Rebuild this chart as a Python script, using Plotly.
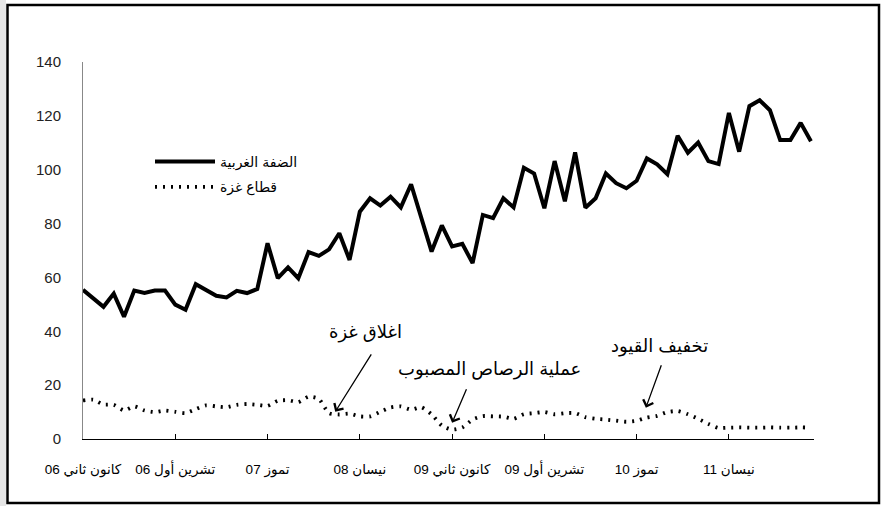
import plotly.graph_objects as go

# ---- data (monthly, Jan 2006 - Dec 2011) ----
months = [f"{y}-{m:02d}" for y in range(2006, 2012) for m in range(1, 13)]

west_bank = [55.4, 52.0, 49.1, 54.0, 45.4, 55.1, 54.2, 55.1, 55.1, 49.9,
             48.0, 57.5, 55.4, 53.2, 52.6, 55.0, 54.2, 55.7, 72.7, 59.7,
             63.7, 59.7, 69.4, 68.0, 70.4, 76.4, 66.5, 84.4, 89.4, 86.7,
             90.0, 86.0, 94.6, 82.4, 69.6, 79.3, 71.5, 72.5, 65.3, 83.2,
             82.0, 89.4, 86.0, 100.7, 98.6, 85.7, 103.2, 88.3, 106.4, 85.9,
             89.4, 98.6, 95.0, 93.1, 95.9, 104.2, 102.0, 98.3, 112.6, 106.3,
             110.1, 103.2, 102.1, 121.1, 106.7, 123.6, 125.8, 122.1, 111.0, 111.0,
             117.4, 110.6]

gaza = [14.3, 14.6, 12.8, 12.7, 10.6, 12.1, 10.6, 10.0, 10.6, 10.1,
        9.6, 11.1, 12.5, 12.1, 11.8, 12.7, 13.0, 12.7, 12.3, 14.2,
        14.4, 13.7, 15.7, 14.9, 9.6, 9.1, 9.4, 8.4, 8.4, 10.1,
        11.7, 12.1, 10.9, 11.8, 9.2, 5.0, 3.5, 4.3, 7.2, 8.5,
        8.4, 8.3, 7.5, 9.2, 9.6, 10.0, 9.2, 9.6, 9.6, 8.1,
        7.5, 7.2, 6.8, 6.4, 6.8, 8.0, 8.6, 10.0, 10.4, 9.2,
        7.5, 5.6, 4.1, 4.2, 4.3, 4.2, 4.2, 4.3, 4.2, 4.2,
        4.3, 4.2]

tick_months = ["2006-01", "2006-10", "2007-07", "2008-04",
               "2009-01", "2009-10", "2010-07", "2011-04"]
tick_labels = ["06 كانون ثاني", "06 تشرين أول", "07 تموز", "08 نيسان",
               "09 كانون ثاني", "09 تشرين أول", "10 تموز", "11 نيسان"]

series_names = ["الضفة الغربية", "قطاع غزة"]

# annotation events: (label, arrow head index, arrow head value)
events = [("اغلاق غزة", 24.6, 10.1),
          ("عملية الرصاص المصبوب", 36.0, 6.0),
          ("تخفيف القيود", 54.9, 11.6)]
event_text_pos = [(27.6, 39.4), (39.6, 25.7), (56.2, 34.2)]
event_tail = [(37, -59), (15, -35), (16, -44)]

FONT = "Liberation Sans, Arial, DejaVu Sans, sans-serif"

fig = go.Figure()
fig.add_trace(go.Scatter(x=months, y=west_bank, mode="lines", name=series_names[0],
                         legendgroup="a",
                         line=dict(color="black", width=4)))
fig.add_trace(go.Scatter(x=months, y=gaza, mode="lines", name=series_names[1],
                         legendgroup="b",
                         line=dict(color="black", width=3.8, dash="2px,6px",
                                   shape="spline", smoothing=0.6)))

for (lbl, hx, hy), (tx, ty), (ax, ay) in zip(events, event_text_pos, event_tail):
    fig.add_annotation(x=hx, y=hy, xref="x", yref="y", text="", showarrow=True,
                       ax=ax, ay=ay, axref="pixel", ayref="pixel",
                       arrowhead=4, arrowsize=1.6, arrowwidth=1.3, arrowcolor="black")
    fig.add_annotation(x=tx, y=ty, xref="x", yref="y", text=lbl, showarrow=False,
                       font=dict(family=FONT, size=18, color="black"))

W, H = 882, 506
L, R, T, B = 83, 68, 62, 67
pw, ph = W - L - R, H - T - B


def px_x(p):
    return (p - L) / pw


def px_y(p):
    return (H - B - p) / ph


# gray strip and outer frame
fig.add_shape(type="rect", xref="paper", yref="paper",
              x0=px_x(0), x1=px_x(6), y0=px_y(H), y1=px_y(0),
              fillcolor="#e6e6e6", line=dict(width=0), layer="below")
fig.add_shape(type="rect", xref="paper", yref="paper",
              x0=px_x(7.5), x1=px_x(879), y0=px_y(503), y1=px_y(5),
              fillcolor="rgba(0,0,0,0)", line=dict(color="black", width=2.5))

fig.update_layout(
    width=W, height=H,
    margin=dict(l=L, r=R, t=T, b=B),
    paper_bgcolor="white", plot_bgcolor="white",
    font=dict(family=FONT, color="#111"),
    showlegend=True,
    legend=dict(x=px_x(150), y=px_y(146), xanchor="left", yanchor="top",
                bgcolor="rgba(0,0,0,0)", font=dict(family=FONT, size=14, color="black"),
                itemwidth=60, tracegroupgap=4),
)
fig.update_xaxes(type="category", range=[0, 71.3],
                 tickmode="array", tickvals=tick_months, ticktext=tick_labels,
                 ticks="inside", ticklen=5, tickcolor="black", tickwidth=1,
                 showline=True, linecolor="black", linewidth=1.2,
                 showgrid=False, zeroline=False,
                 tickfont=dict(family=FONT, size=13.5, color="black"),
                 ticklabelstandoff=18)
fig.update_yaxes(range=[0, 140], dtick=20, tick0=0,
                 showline=True, linecolor="#888", linewidth=1,
                 ticks="", showgrid=False, zeroline=False,
                 tickfont=dict(family=FONT, size=15, color="#222"),
                 ticklabelstandoff=18)

fig.write_html("out.html", config={"displayModeBar": False},
               post_script="document.body.style.margin='0';")
